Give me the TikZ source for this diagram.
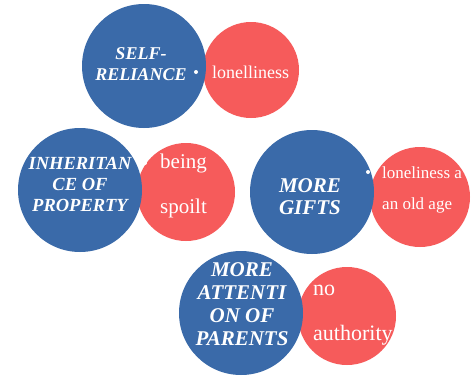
\documentclass[tikz,border=0pt]{standalone}
\usepackage{fontspec}
\setmainfont{Liberation Serif}
\definecolor{bubbleblue}{HTML}{3A6AA9}
\definecolor{bubblered}{HTML}{F65B5B}
\tikzset{
    causebubble/.style={circle, fill=bubbleblue, minimum size=124pt, inner sep=0pt},
    effectbubble/.style={circle, fill=bubblered, minimum size=98pt, inner sep=0pt},
    causetext/.style={text=white, align=center, font=\bfseries\itshape},
    effecttext/.style={text=white, anchor=west, inner sep=0pt},
    bulletdot/.style={circle, fill=white, minimum size=4pt, inner sep=0pt}
}
\begin{document}
\begin{tikzpicture}[x=1pt, y=-1pt]
        \useasboundingbox[fill=white] (0,0) rectangle (471,375);

        % Effect bubbles (drawn first, causes lie on top)
        \node[effectbubble, minimum size=96pt] (lonelyred) at (251,70) {};
        \node[effectbubble] (spoiltred) at (186,192) {};
        \node[effectbubble, minimum size=100pt] (oldagered) at (420,197) {};
        \node[effectbubble] (authorityred) at (347,316) {};

        % Cause bubbles
        \node[causebubble] (selfblue) at (144,66) {};
        \node[causebubble] (inheritblue) at (80,190) {};
        \node[causebubble] (giftsblue) at (312,192) {};
        \node[causebubble] (attentionblue) at (241,313) {};

        % Cause labels
        \node[causetext, font=\bfseries\itshape\fontsize{18}{21}\selectfont] (selftext) at (141,64) {SELF-\\RELIANCE};
        \node[causetext, font=\bfseries\itshape\fontsize{18.5}{21}\selectfont] (inherittext) at (80,184) {INHERITAN\\CE OF\\PROPERTY};
        \node[causetext, font=\bfseries\itshape\fontsize{21}{22}\selectfont] (giftstext) at (310,197) {MORE\\GIFTS};
        \node[causetext, font=\bfseries\itshape\fontsize{21}{23}\selectfont] (attentiontext) at (242,304) {MORE\\ATTENTI\\ON OF\\PARENTS};

        % Bullets on the edges
        \node[bulletdot] (selfdot) at (196,72) {};
        \node[bulletdot] (inheritdot) at (145,163) {};
        \node[bulletdot] (giftsdot) at (368,172) {};
        \node[bulletdot, minimum size=3pt] (attentiondot) at (300,290) {};

        % Effect labels
        \node[effecttext, font=\fontsize{18}{20}\selectfont] (lonelytext) at (212,72) {lonelliness};
        \node[effecttext, font=\fontsize{21}{23}\selectfont] (beingtext) at (160,163) {being};
        \node[effecttext, font=\fontsize{21}{23}\selectfont] (spoilttext) at (160,208) {spoilt};
        \node[effecttext, font=\fontsize{17}{19}\selectfont] (oldagetexta) at (382,173) {loneliness a};
        \node[effecttext, font=\fontsize{17}{19}\selectfont] (oldagetextb) at (382,205) {an old age};
        \node[effecttext, font=\fontsize{22}{24}\selectfont] (notext) at (313,290) {no};
        \node[effecttext, font=\fontsize{22}{24}\selectfont] (authoritytext) at (313,335) {authority};
    \end{tikzpicture}
\end{document}
